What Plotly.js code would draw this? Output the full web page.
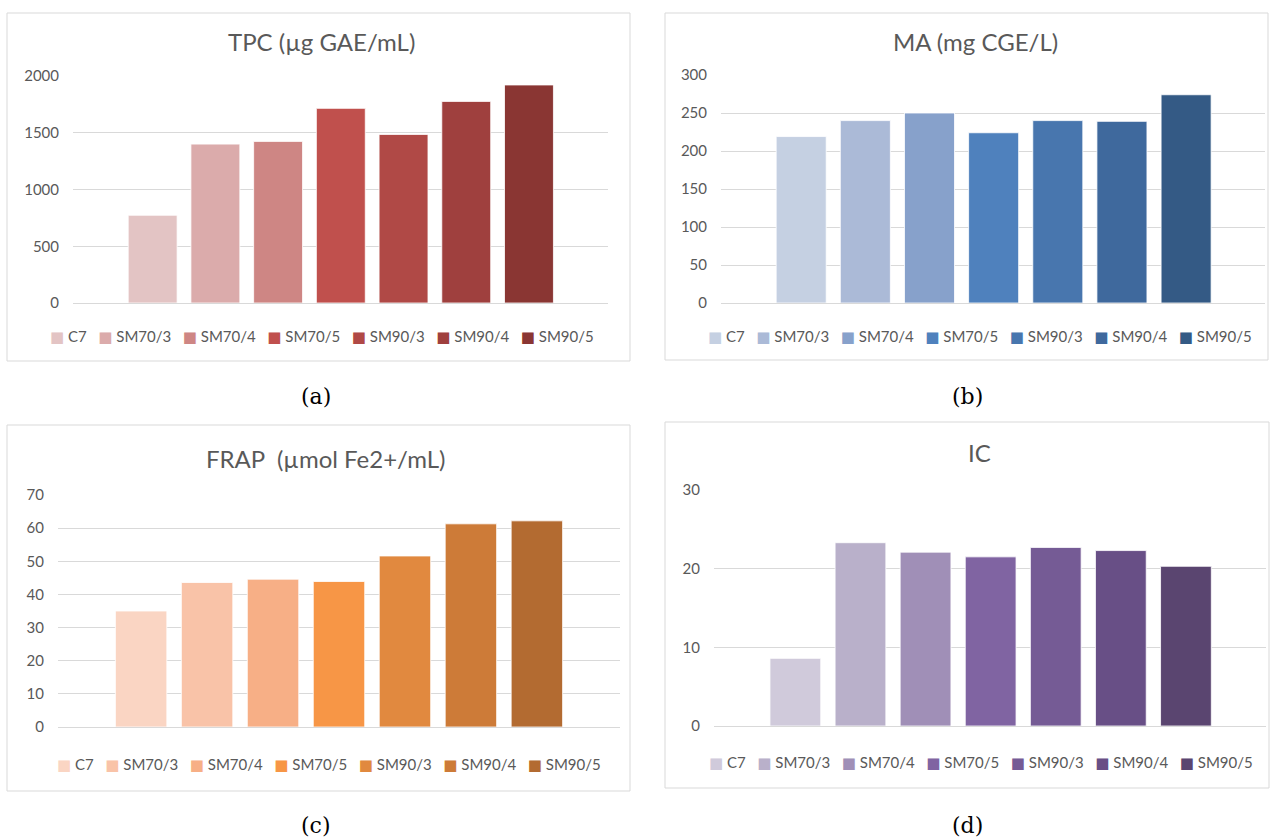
<!DOCTYPE html>
<html>
<head>
<meta charset="utf-8">
<script src="https://cdn.plot.ly/plotly-3.0.1.min.js"></script>
<style>html,body{margin:0;padding:0;background:#fff;}#chart{width:1273px;height:839px;}</style>
</head>
<body>
<div id="chart"></div>
<script>
// ---- data ----
const categories = ["C7", "SM70/3", "SM70/4", "SM70/5", "SM90/3", "SM90/4", "SM90/5"];
const tpcValues  = [773, 1400, 1424, 1715, 1485, 1776, 1921];
const maValues   = [219, 240, 250, 224, 240, 239, 274];
const frapValues = [35.0, 43.6, 44.6, 43.9, 51.6, 61.3, 62.2];
const icValues   = [8.6, 23.3, 22.1, 21.5, 22.7, 22.3, 20.3];

const tpcColors  = ["#e3c4c4", "#dbabab", "#ce8684", "#c0504d", "#b04946", "#9f403e", "#8a3633"];
const maColors   = ["#c5d0e2", "#abbad7", "#87a1cb", "#4f81bd", "#4876ae", "#3f699d", "#345a85"];
const frapColors = ["#fad5c3", "#f9c3a8", "#f7af86", "#f79646", "#e1893f", "#cd7b38", "#b36b31"];
const icColors   = ["#d0cadb", "#b9b0ca", "#a08fb7", "#8064a2", "#755b95", "#684f86", "#5a4570"];

const titles   = ["TPC (µg GAE/mL)", "MA (mg CGE/L)", "FRAP\u00A0 (µmol Fe2+/mL)", "IC"];
const captions = ["(a)", "(b)", "(c)", "(d)"];
const yMax     = [2000, 300, 70, 30];
const yStep    = [500, 50, 10, 10];

// ---- layout helpers (pixel geometry of the page) ----
const W = 1273, H = 839;
const px = x => x / W;
const py = y => 1 - y / H;

const panels = [
  {vals: tpcValues,  cols: tpcColors,  plot: [73, 608, 303, 76],  box: [7, 630, 13, 361],   title: [321, 42],  legend: [322, 336], cap: [316, 396], xr: [-1.27, 7.26]},
  {vals: maValues,   cols: maColors,   plot: [721, 1265, 303, 75], box: [665, 1268, 13, 360], title: [975, 42],  legend: [980, 336], cap: [968, 396], xr: [-1.25, 7.23]},
  {vals: frapValues, cols: frapColors, plot: [58, 620, 727, 495],  box: [7, 630, 425, 791],  title: [326, 458], legend: [329, 764], cap: [316, 825], xr: [-1.26, 7.26]},
  {vals: icValues,   cols: icColors,   plot: [714, 1266, 726, 490], box: [665, 1269, 422, 788], title: [979, 452], legend: [981, 762], cap: [968, 825], xr: [-1.25, 7.23]}
];

const FONT = "Lato, 'Open Sans', 'DejaVu Sans', sans-serif";
const GREY = "#595959";
const traces = [];
const layout = {
  width: W, height: H,
  margin: {l: 0, r: 0, t: 0, b: 0},
  paper_bgcolor: "#ffffff", plot_bgcolor: "rgba(0,0,0,0)",
  showlegend: false,
  barmode: "overlay",
  font: {family: FONT, color: GREY, size: 15},
  shapes: [], annotations: []
};

panels.forEach((p, k) => {
  const n = k + 1;
  const xa = "xaxis" + (n === 1 ? "" : n), ya = "yaxis" + (n === 1 ? "" : n);
  const xr = "x" + (n === 1 ? "" : n), yr = "y" + (n === 1 ? "" : n);
  categories.forEach((c, i) => {
    traces.push({
      type: "bar", name: c, x: [c], y: [p.vals[i]],
      xaxis: xr, yaxis: yr, width: 0.78,
      marker: {color: p.cols[i], line: {color: "#ffffff", width: 0.8}},
      hoverinfo: "x+y"
    });
  });
  layout[xa] = {
    domain: [px(p.plot[0]), px(p.plot[1])], anchor: yr,
    type: "category", categoryorder: "array", categoryarray: categories,
    range: p.xr, showticklabels: false, ticks: "", showgrid: false,
    zeroline: false, showline: false, fixedrange: true
  };
  layout[ya] = {
    domain: [py(p.plot[2]), py(p.plot[3])], anchor: xr,
    range: [0, yMax[k]], dtick: yStep[k], tick0: 0,
    showgrid: true, gridcolor: "#d9d9d9", gridwidth: 1,
    zeroline: true, zerolinecolor: "#d9d9d9", zerolinewidth: 1,
    showline: false, ticks: "", ticklabelstandoff: 13,
    tickfont: {family: FONT, size: 15, color: GREY}, fixedrange: true
  };
  // chart border
  layout.shapes.push({
    type: "rect", xref: "paper", yref: "paper",
    x0: px(p.box[0]), x1: px(p.box[1]), y0: py(p.box[3]), y1: py(p.box[2]),
    line: {color: "#d9d9d9", width: 1}, fillcolor: "rgba(0,0,0,0)", layer: "below"
  });
  // title
  layout.annotations.push({
    xref: "paper", yref: "paper", x: px(p.title[0]), y: py(p.title[1]),
    xanchor: "center", yanchor: "middle", showarrow: false,
    text: titles[k], font: {family: FONT, size: 24, color: GREY}
  });
  // legend row (built from categories and colours)
  const legendText = categories.map((c, i) =>
    '<span style="color:' + p.cols[i] + '">■</span>\u00A0' + c
  ).join('\u00A0\u00A0\u00A0');
  layout.annotations.push({
    xref: "paper", yref: "paper", x: px(p.legend[0]), y: py(p.legend[1]),
    xanchor: "center", yanchor: "middle", showarrow: false,
    text: legendText, font: {family: FONT, size: 15, color: GREY}
  });
  // caption
  layout.annotations.push({
    xref: "paper", yref: "paper", x: px(p.cap[0]), y: py(p.cap[1]),
    xanchor: "center", yanchor: "middle", showarrow: false,
    text: captions[k], font: {family: "'DejaVu Serif', 'Liberation Serif', serif", size: 22, color: "#000000"}
  });
});

Plotly.newPlot("chart", traces, layout, {displayModeBar: false, staticPlot: true});
</script>
</body>
</html>
